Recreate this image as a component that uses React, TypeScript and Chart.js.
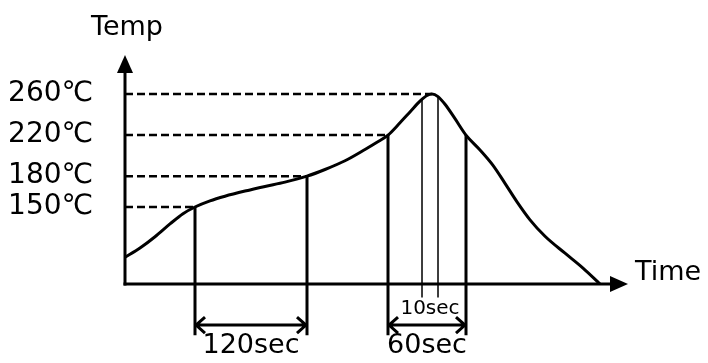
import React, { useEffect, useRef } from "react";
import { Chart, registerables } from "chart.js";

Chart.register(...registerables);

// Reflow profile curve (time in arbitrary schematic units, temperature in °C)
const curveTime = [0, 15, 30, 45, 58, 70, 85, 100, 120, 140, 160, 182, 200, 220, 240, 252, 263, 275, 285, 295, 302, 307, 313, 320, 330, 341, 355, 368, 380, 392, 405, 420, 440, 458, 475];
const curveTemp = [101, 110, 121, 133.5, 143.5, 150, 156, 160.5, 165.5, 170, 174.2, 180, 186.5, 195, 206, 213, 220, 232, 242.5, 253, 258.5, 260, 257.5, 250, 236, 220, 205.5, 190.5, 173, 155, 137.5, 121.5, 105, 90.5, 75];

// Temperature reference levels and where they meet the curve
const levelTemps = [150, 180, 220, 260];
const levelTimes = [70, 182, 263, 307];
const tickLabels = ["150℃", "180℃", "220℃", "260℃"];

// Duration markers
const spanStarts = [70, 263];
const spanEnds = [182, 341];
const spanTopTemps = [150, 180, 220, 220];
const spanLabels = ["120sec", "60sec"];

// Peak window
const peakTimes = [297, 313];
const peakTemps = [255, 257];
const peakLabel = "10sec";

const axisLabels = ["Temp", "Time"];

const FONT = '"Comic Sans MS", "DejaVu Sans", sans-serif';

export default function App() {
  const ref = useRef<HTMLCanvasElement>(null);

  useEffect(() => {
    const canvas = ref.current!;
    const MARK_BOTTOM = 25; // vertical marker lines extend below axis
    const BRACKET = 35;
    const THIN_BOTTOM = 62;

    const datasets: any[] = [];
    datasets.push({
      data: curveTime.map((t, i) => ({ x: t, y: curveTemp[i] })),
      borderColor: "#000",
      borderWidth: 3,
      pointRadius: 0,
      cubicInterpolationMode: "monotone",
      clip: false,
    });
    levelTemps.forEach((T, i) => {
      datasets.push({
        data: [{ x: 0, y: T }, { x: levelTimes[i], y: T }],
        borderColor: "#000",
        borderWidth: 2.5,
        borderDash: [8, 4],
        pointRadius: 0,
        clip: false,
      });
    });
    const marks = [
      { t: spanStarts[0], T: spanTopTemps[0] },
      { t: spanEnds[0], T: spanTopTemps[1] },
      { t: spanStarts[1], T: spanTopTemps[2] },
      { t: spanEnds[1], T: spanTopTemps[3] },
    ];
    marks.forEach((m) => {
      datasets.push({
        data: [{ x: m.t, y: m.T }, { x: m.t, y: MARK_BOTTOM }],
        borderColor: "#000",
        borderWidth: 3,
        pointRadius: 0,
        clip: false,
      });
    });
    peakTimes.forEach((t, i) => {
      datasets.push({
        data: [{ x: t, y: peakTemps[i] }, { x: t, y: THIN_BOTTOM }],
        borderColor: "#222",
        borderWidth: 1,
        pointRadius: 0,
        clip: false,
      });
    });

    const overlay = {
      id: "overlay",
      afterDatasetsDraw(chart: any) {
        const { ctx, chartArea: a, scales } = chart;
        const xs = scales.x, ys = scales.y;
        ctx.save();
        ctx.strokeStyle = "#000";
        ctx.fillStyle = "#000";
        ctx.lineWidth = 3;
        // y axis
        ctx.beginPath();
        ctx.moveTo(a.left, a.bottom + 1.5);
        ctx.lineTo(a.left, a.top + 12);
        ctx.stroke();
        ctx.beginPath();
        ctx.moveTo(a.left, a.top);
        ctx.lineTo(a.left - 8, a.top + 18);
        ctx.lineTo(a.left + 8, a.top + 18);
        ctx.closePath();
        ctx.fill();
        // x axis
        ctx.beginPath();
        ctx.moveTo(a.left - 1.5, a.bottom);
        ctx.lineTo(a.right - 12, a.bottom);
        ctx.stroke();
        ctx.beginPath();
        ctx.moveTo(a.right, a.bottom);
        ctx.lineTo(a.right - 18, a.bottom - 8);
        ctx.lineTo(a.right - 18, a.bottom + 8);
        ctx.closePath();
        ctx.fill();

        // brackets
        ctx.lineWidth = 3;
        const by = ys.getPixelForValue(BRACKET);
        spanStarts.forEach((s, i) => {
          const x1 = xs.getPixelForValue(s);
          const x2 = xs.getPixelForValue(spanEnds[i]);
          ctx.beginPath();
          ctx.moveTo(x1, by);
          ctx.lineTo(x2, by);
          ctx.moveTo(x1 + 10, by - 8);
          ctx.lineTo(x1 + 1, by);
          ctx.lineTo(x1 + 10, by + 8);
          ctx.moveTo(x2 - 10, by - 8);
          ctx.lineTo(x2 - 1, by);
          ctx.lineTo(x2 - 10, by + 8);
          ctx.stroke();
          ctx.font = `27px ${FONT}`;
          ctx.textAlign = "center";
          ctx.textBaseline = "middle";
          ctx.fillText(spanLabels[i], (x1 + x2) / 2, by + 21);
        });

        // peak label
        ctx.font = `20px ${FONT}`;
        ctx.textAlign = "center";
        ctx.textBaseline = "middle";
        ctx.fillText(peakLabel, xs.getPixelForValue((peakTimes[0] + peakTimes[1]) / 2), ys.getPixelForValue(THIN_BOTTOM) + 11);

        // tick labels
        ctx.font = `28px ${FONT}`;
        ctx.textAlign = "right";
        levelTemps.forEach((T, i) => {
          ctx.fillText(tickLabels[i], a.left - 32, ys.getPixelForValue(T));
        });

        // axis labels
        ctx.font = `27px ${FONT}`;
        ctx.textAlign = "center";
        ctx.fillText(axisLabels[0], a.left + 2, 28);
        ctx.textAlign = "left";
        ctx.fillText(axisLabels[1], a.right + 7, a.bottom - 11);
        ctx.restore();
      },
    };

    const chart = new Chart(canvas, {
      type: "line",
      data: { datasets },
      options: {
        responsive: false,
        animation: false,
        layout: { padding: { left: 125, right: 80, top: 55, bottom: 79 } },
        scales: {
          x: { type: "linear", min: 0, max: 503, display: false },
          y: { type: "linear", min: 75, max: 298, display: false },
        },
        plugins: { legend: { display: false }, tooltip: { enabled: false } },
      },
      plugins: [overlay],
    } as any);
    return () => chart.destroy();
  }, []);

  return (
    <div style={{ position: "fixed", left: 0, top: 0, width: 708, height: 363, background: "#fff" }}>
      <canvas ref={ref} width={708} height={363} style={{ width: 708, height: 363 }} />
    </div>
  );
}
